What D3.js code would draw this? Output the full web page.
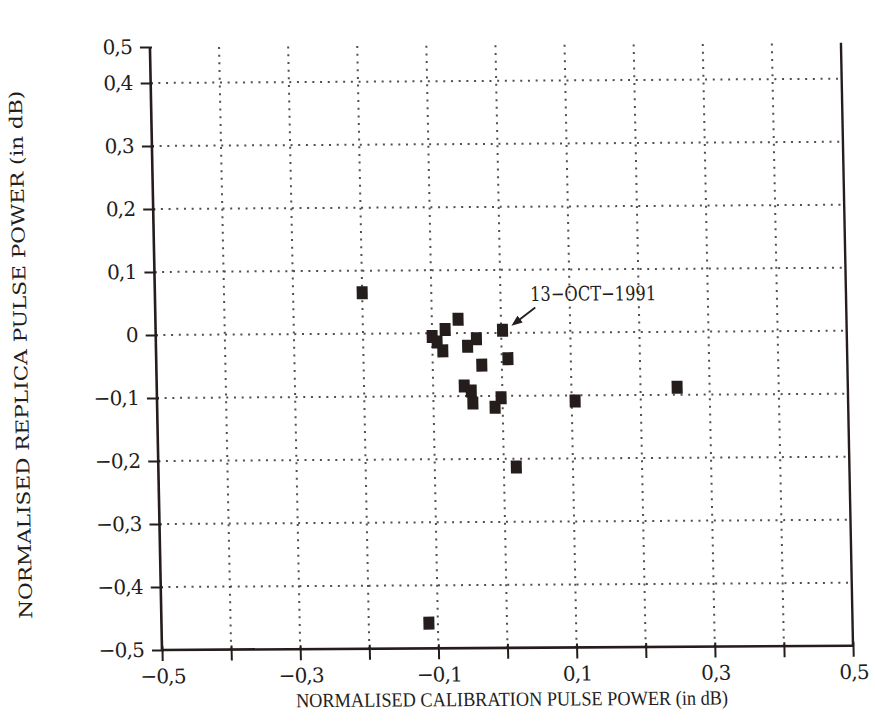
<!DOCTYPE html>
<html>
<head>
<meta charset="utf-8">
<script src="https://cdn.jsdelivr.net/npm/d3@7/dist/d3.min.js"></script>
<style>
  html, body { margin: 0; padding: 0; background: #fff; }
  svg { display: block; }
</style>
</head>
<body>
<svg id="chart" width="875" height="724"></svg>
<script>
// ---- data ----
const calibrationPower = [-0.200, -0.113, 0.253, 0.105, 0.018, 0.002, -0.062, -0.081, -0.100, -0.093,
                          -0.085, -0.036, -0.049, -0.029, 0.009, -0.055, -0.045, -0.043, -0.002, -0.011];
const replicaPower     = [0.065, -0.460, -0.088, -0.109, -0.213, 0.004, 0.022, 0.006, -0.005, -0.014,
                          -0.028, -0.009, -0.021, -0.051, -0.041, -0.084, -0.092, -0.111, -0.103, -0.118];
const xTickValues = [-0.5, -0.4, -0.3, -0.2, -0.1, 0, 0.1, 0.2, 0.3, 0.4, 0.5];
const xTickLabels = ["\u22120,5", "", "\u22120,3", "", "\u22120,1", "", "0,1", "", "0,3", "", "0,5"];
const yTickValues = [-0.5, -0.4, -0.3, -0.2, -0.1, 0, 0.1, 0.2, 0.3, 0.4, 0.5];
const yTickLabels = ["\u22120,5", "\u22120,4", "\u22120,3", "\u22120,2", "\u22120,1", "0", "0,1", "0,2", "0,3", "0,4", "0,5"];
const gridValues = [-0.4, -0.3, -0.2, -0.1, 0, 0.1, 0.2, 0.3, 0.4];
const annotationText = "13\u2212OCT\u22121991";
const annotationAt = [0.043, 0.052];     // text start
const arrowFrom = [0.050, 0.040];
const arrowTo = [0.015, 0.011];
const xTitle = "NORMALISED CALIBRATION PULSE POWER  (in dB)";
const yTitle = "NORMALISED REPLICA PULSE POWER  (in dB)";

// ---- layout ----
const ink = "#241d1c";
const svg = d3.select("#chart");
const x = d3.scaleLinear().domain([-0.5, 0.5]).range([162, 853]);
const y = d3.scaleLinear().domain([-0.5, 0.4, 0.5]).range([650, 83, 47]);

// slight skew of the scanned original
const g = svg.append("g").attr("transform", "matrix(1,-0.0062,0.02,1,-13,1)");

// dotted grid
const grid = g.append("g").attr("stroke", "#554d4c").attr("stroke-width", 2)
  .attr("stroke-dasharray", "2 5.7").attr("fill", "none");
grid.selectAll("line.v").data(gridValues).join("line").attr("class", "v")
  .attr("x1", d => x(d)).attr("x2", d => x(d))
  .attr("y1", y(-0.5)).attr("y2", y(0.5));
grid.selectAll("line.h").data(gridValues).join("line").attr("class", "h")
  .attr("y1", d => y(d)).attr("y2", d => y(d))
  .attr("x1", x(-0.5)).attr("x2", x(0.5));

// right frame line
g.append("line").attr("x1", x(0.5)).attr("x2", x(0.5)).attr("y1", y(0.5)).attr("y2", y(-0.5))
  .attr("stroke", ink).attr("stroke-width", 2.4);

const tickFont = "'DejaVu Serif', serif";

// x axis
const xAxis = g.append("g").attr("transform", `translate(0,${y(-0.5)})`)
  .call(d3.axisBottom(x).tickValues(xTickValues).tickSize(11).tickFormat((d, i) => xTickLabels[i]));
xAxis.select(".domain").attr("d", `M${x(-0.5)},0H${x(0.5)}`).attr("stroke", ink).attr("stroke-width", 2.6);
xAxis.selectAll(".tick line").attr("stroke", ink).attr("stroke-width", 2).attr("y1", -4);
xAxis.selectAll(".tick text").attr("fill", ink).attr("y", 19)
  .style("font-family", tickFont).style("font-size", "20px").style("letter-spacing", "-0.8px");

// y axis
const yAxis = g.append("g").attr("transform", `translate(${x(-0.5)},0)`)
  .call(d3.axisLeft(y).tickValues(yTickValues).tickSize(10).tickFormat((d, i) => yTickLabels[i]));
yAxis.select(".domain").attr("d", `M0,${y(-0.5)}V${y(0.5)}`).attr("stroke", ink).attr("stroke-width", 2.6);
yAxis.selectAll(".tick line").attr("stroke", ink).attr("stroke-width", 2).attr("x1", 2);
yAxis.selectAll(".tick text").attr("fill", ink).attr("x", -18)
  .style("font-family", tickFont).style("font-size", "20px").style("letter-spacing", "-0.8px");

// points
g.append("g").selectAll("rect").data(calibrationPower.map((v, i) => [v, replicaPower[i]])).join("rect")
  .attr("x", d => x(d[0]) - 5.5).attr("y", d => y(d[1]) - 6.5)
  .attr("width", 11).attr("height", 13)
  .attr("fill", ink);

// annotation
g.append("text").attr("x", x(annotationAt[0])).attr("y", y(annotationAt[1]) + 1)
  .attr("fill", ink).style("font-family", tickFont).style("font-size", "20px")
  .attr("textLength", 126).attr("lengthAdjust", "spacingAndGlyphs")
  .text(annotationText);
const ax1 = x(arrowFrom[0]), ay1 = y(arrowFrom[1]), ax2 = x(arrowTo[0]), ay2 = y(arrowTo[1]);
const ang = Math.atan2(ay2 - ay1, ax2 - ax1);
const hl = 11, hw = 4.2;
g.append("line").attr("x1", ax1).attr("y1", ay1)
  .attr("x2", ax2 - Math.cos(ang) * hl * 0.8).attr("y2", ay2 - Math.sin(ang) * hl * 0.8)
  .attr("stroke", ink).attr("stroke-width", 1.8);
g.append("path").attr("fill", ink).attr("d", () => {
  const bx = ax2 - Math.cos(ang) * hl, by = ay2 - Math.sin(ang) * hl;
  const px = -Math.sin(ang) * hw, py = Math.cos(ang) * hw;
  return `M${ax2},${ay2}L${bx + px},${by + py}L${bx - px},${by - py}Z`;
});

// axis titles
g.append("text").attr("x", 511).attr("y", 708).attr("text-anchor", "middle")
  .attr("fill", ink).style("font-family", "'Liberation Serif', serif").style("font-size", "20px")
  .attr("textLength", 432).attr("lengthAdjust", "spacingAndGlyphs")
  .text(xTitle);
g.append("text").attr("transform", "translate(33,354) rotate(-90)").attr("text-anchor", "middle")
  .attr("fill", ink).style("font-family", tickFont).style("font-size", "18px")
  .attr("textLength", 528).attr("lengthAdjust", "spacingAndGlyphs")
  .text(yTitle);
</script>
</body>
</html>
